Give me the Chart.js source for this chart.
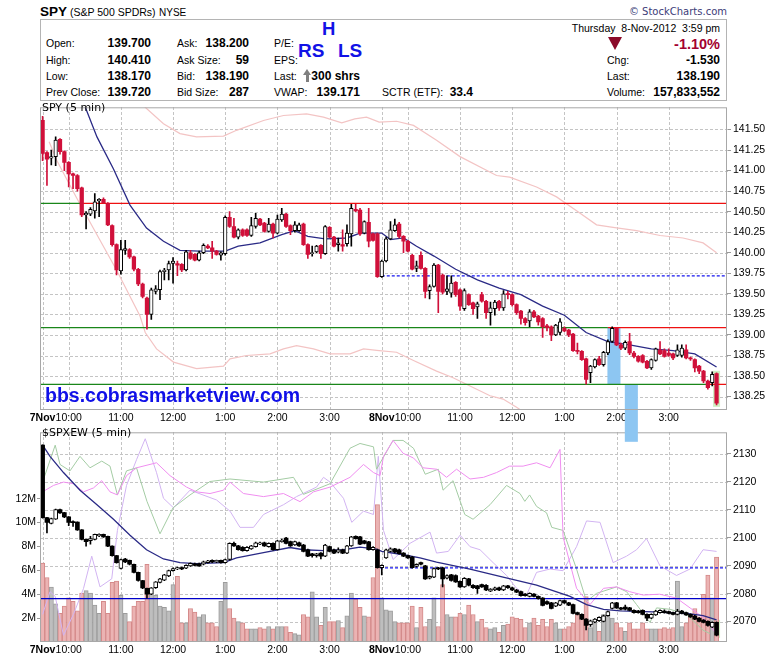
<!DOCTYPE html>
<html>
<head>
<meta charset="utf-8">
<script src="https://cdn.jsdelivr.net/npm/chart.js@4.4.0/dist/chart.umd.min.js"></script>
<style>
  html, body { margin: 0; padding: 0; background: #fff; }
  #page { position: relative; width: 780px; height: 659px; overflow: hidden; background: #fff; }
  .t { position: absolute; white-space: pre; line-height: 1; font-family: 'Liberation Sans', Arial, sans-serif; font-size: 10.5px; color: #000; z-index: 5; }
  .b { font-weight: bold; font-size: 12px; }
  .big { font-weight: bold; color: #1212E6; }
  .dv { font-family: 'DejaVu Sans', sans-serif; font-size: 11px; }
  canvas { position: absolute; left: 0; }
  #spy { top: 99px; z-index: 2; }
  #ew { top: 424px; z-index: 1; }
  #box { position: absolute; left: 40px; top: 19px; width: 687px; height: 82px; box-sizing: border-box; border: 1px solid #B4B4B4; }
</style>
</head>
<body>
<div id="page">
  <div class="t b" style="left:40px;top:5px;font-size:13.5px">SPY</div>
  <div class="t" style="left:70px;top:7px">(S&amp;P 500 SPDRs)</div>
  <div class="t" style="left:159px;top:7.5px;font-size:10px">NYSE</div>
  <div class="t dv" style="right:53px;top:7px;font-size:10px;color:#3C3C78">&copy; StockCharts.com</div>
  <div id="box"></div>

  <div class="t" style="left:46px;top:38px">Open:</div>
  <div class="t b" style="right:629px;top:37px">139.700</div>
  <div class="t" style="left:46px;top:55px">High:</div>
  <div class="t b" style="right:629px;top:54px">140.410</div>
  <div class="t" style="left:46px;top:71px">Low:</div>
  <div class="t b" style="right:629px;top:70px">138.170</div>
  <div class="t" style="left:46px;top:87px">Prev Close:</div>
  <div class="t b" style="right:629px;top:86px">139.720</div>

  <div class="t" style="left:177px;top:38px">Ask:</div>
  <div class="t b" style="right:531px;top:37px">138.200</div>
  <div class="t" style="left:177px;top:55px">Ask Size:</div>
  <div class="t b" style="right:531px;top:54px">59</div>
  <div class="t" style="left:177px;top:71px">Bid:</div>
  <div class="t b" style="right:531px;top:70px">138.190</div>
  <div class="t" style="left:177px;top:87px">Bid Size:</div>
  <div class="t b" style="right:531px;top:86px">287</div>

  <div class="t" style="left:274px;top:38px">P/E:</div>
  <div class="t" style="left:274px;top:55px">EPS:</div>
  <div class="t" style="left:274px;top:71px">Last:</div>
  <div style="position:absolute;left:303px;top:69px;width:0;height:0;border-left:4px solid transparent;border-right:4px solid transparent;border-bottom:6px solid #808080;z-index:5"></div>
  <div style="position:absolute;left:305.5px;top:75px;width:3px;height:7px;background:#808080;z-index:5"></div>
  <div class="t b" style="right:420px;top:70px">300 shrs</div>
  <div class="t" style="left:274px;top:87px">VWAP:</div>
  <div class="t b" style="right:420px;top:86px">139.171</div>
  <div class="t" style="left:382px;top:87px">SCTR (ETF):</div>
  <div class="t b" style="right:307px;top:86px">33.4</div>

  <div class="t big" style="left:322px;top:20px;font-size:18.5px">H</div>
  <div class="t big" style="left:298px;top:40.5px;font-size:19px">RS</div>
  <div class="t big" style="left:338px;top:40.5px;font-size:19px">LS</div>

  <div class="t" style="right:60px;top:23px">Thursday  8-Nov-2012  3:59 pm</div>
  <div style="position:absolute;left:608px;top:37px;width:0;height:0;border-left:7.5px solid transparent;border-right:7.5px solid transparent;border-top:13px solid #8B0A2A;z-index:5"></div>
  <div class="t b" style="right:60px;top:37px;font-size:14.5px;color:#A3002F">-1.10%</div>
  <div class="t" style="left:607px;top:55px">Chg:</div>
  <div class="t b" style="right:60px;top:54px">-1.530</div>
  <div class="t" style="left:607px;top:71px">Last:</div>
  <div class="t b" style="right:60px;top:70px">138.190</div>
  <div class="t" style="left:607px;top:87px">Volume:</div>
  <div class="t b" style="right:60px;top:86px">157,833,552</div>

  <canvas id="spy" width="780" height="346"></canvas>
  <canvas id="ew" width="780" height="235"></canvas>

  <div class="t dv" style="left:42px;top:102px">SPY (5 min)</div>
  <div class="t" style="left:45px;top:385.5px;font-size:19.5px;font-weight:bold;color:#1010E8">bbs.cobrasmarketview.com</div>
  <div class="t dv" style="left:42px;top:426.5px">$SPXEW (5 min)</div>
</div>

<script>
// --- time axis: 5-minute bars, 7 Nov (0-77) and 8 Nov (78-155)
const timeTicks = [0, 6, 18, 30, 42, 54, 66, 78, 84, 96, 108, 120, 132, 144];
const timeLabels = ['7Nov', '10:00', '11:00', '12:00', '1:00', '2:00', '3:00',
                    '8Nov', '10:00', '11:00', '12:00', '1:00', '2:00', '3:00'];

// --- SPY 5 min candles
const spyOpen = [
  141.61,141.22,141.15,141.17,141.38,141.23,141.10,140.96,140.94,140.79,
  140.46,140.47,140.51,140.63,140.65,140.60,140.33,140.10,139.78,140.03,
  140.04,139.95,139.80,139.62,139.45,139.25,139.53,139.55,139.77,139.79,
  139.87,139.87,139.86,139.79,140.00,139.98,139.91,140.00,140.08,140.06,
  140.02,139.97,139.99,140.43,140.32,140.19,140.28,140.28,140.21,140.32,
  140.41,140.36,140.26,140.35,140.24,140.40,140.47,140.33,140.27,140.27,
  140.35,140.10,139.99,140.01,140.09,139.99,140.31,140.19,140.10,140.10,
  140.11,140.23,140.53,140.52,140.24,140.37,140.23,140.23,
  139.71,139.90,
  140.17,140.27,140.35,140.20,140.14,139.97,139.81,139.97,139.81,139.54,
  139.59,139.85,139.73,139.53,139.51,139.64,139.55,139.32,139.49,139.39,
  139.34,139.49,139.41,139.27,139.32,139.41,139.33,139.50,139.49,139.37,
  139.29,139.20,139.17,139.28,139.23,139.20,139.11,139.10,139.00,139.03,
  139.08,139.06,139.01,138.81,138.80,138.71,138.54,138.61,138.71,138.64,
  138.78,138.92,139.08,138.88,138.84,138.92,138.78,138.74,138.75,138.68,
  138.60,138.69,138.82,138.81,138.78,138.77,138.75,138.75,138.82,138.72,
  138.70,138.62,138.56,138.44,138.42,138.53];
const spyHigh = [
  141.66,141.23,141.25,141.41,141.39,141.24,141.11,140.97,140.95,140.80,
  140.50,140.55,140.72,140.66,140.67,140.61,140.34,140.11,140.15,140.15,
  140.05,139.96,139.81,139.63,139.46,139.57,139.60,139.79,139.81,139.90,
  139.94,139.90,139.87,140.03,140.03,139.99,140.02,140.11,140.10,140.14,
  140.03,140.01,140.45,140.50,140.42,140.29,140.29,140.29,140.43,140.48,
  140.42,140.37,140.42,140.36,140.46,140.54,140.48,140.34,140.38,140.36,
  140.36,140.11,140.08,140.09,140.10,140.33,140.32,140.20,140.18,140.28,
  140.34,140.59,140.59,140.54,140.39,140.54,140.24,140.24,
  139.91,140.19,
  140.38,140.41,140.37,140.21,140.15,139.98,139.90,140.01,139.82,139.61,
  139.87,139.86,139.74,139.72,139.72,139.65,139.56,139.56,139.50,139.40,
  139.40,139.52,139.42,139.40,139.42,139.42,139.54,139.53,139.50,139.38,
  139.30,139.21,139.31,139.30,139.24,139.21,139.13,139.11,139.13,139.20,
  139.10,139.07,139.02,138.90,138.81,138.72,138.63,138.71,138.74,138.80,
  138.94,139.10,139.09,138.90,138.93,139.02,138.80,138.75,138.76,138.69,
  138.71,138.84,138.92,138.83,138.83,138.78,138.88,138.88,138.88,138.73,
  138.71,138.63,138.57,138.45,138.55,138.54];
const spyLow = [
  141.12,140.82,141.07,141.06,141.20,141.00,140.80,140.78,140.75,140.44,
  140.29,140.45,140.42,140.44,140.60,140.33,140.08,139.73,139.74,139.98,
  139.93,139.78,139.60,139.45,139.07,139.19,139.50,139.43,139.67,139.67,
  139.63,139.72,139.77,139.78,139.92,139.90,139.90,139.99,140.05,139.93,
  139.97,139.91,139.97,140.31,140.18,140.17,140.20,140.20,140.20,140.30,
  140.33,140.25,140.25,140.18,140.23,140.38,140.31,140.22,140.25,140.26,
  140.09,139.93,139.96,140.00,139.93,139.98,140.18,140.07,140.02,140.02,
  140.08,140.08,140.50,140.21,140.23,140.07,140.14,139.70,
  139.70,139.89,
  140.16,140.26,140.18,140.00,140.01,139.79,139.77,139.80,139.45,139.44,
  139.58,139.27,139.50,139.49,139.46,139.47,139.30,139.30,139.36,139.25,
  139.20,139.40,139.20,139.12,139.24,139.30,139.30,139.44,139.35,139.25,
  139.13,139.12,139.10,139.21,139.12,138.97,139.05,138.93,138.99,139.00,
  139.04,138.98,138.80,138.77,138.69,138.40,138.42,138.60,138.63,138.62,
  138.76,138.91,138.87,138.82,138.82,138.76,138.72,138.67,138.66,138.59,
  138.58,138.68,138.76,138.73,138.74,138.70,138.74,138.73,138.71,138.69,
  138.55,138.53,138.42,138.34,138.38,138.15];
const spyClose = [
  141.21,141.14,141.17,141.37,141.23,141.10,140.96,140.94,140.78,140.46,
  140.48,140.53,140.62,140.65,140.61,140.34,140.10,139.79,140.04,140.05,
  139.95,139.80,139.62,139.47,139.25,139.55,139.56,139.77,139.79,139.87,
  139.90,139.85,139.79,140.01,139.93,139.91,140.00,140.09,140.06,140.02,
  139.98,140.00,140.43,140.32,140.19,140.28,140.21,140.21,140.33,140.42,
  140.34,140.26,140.35,140.24,140.41,140.47,140.32,140.27,140.34,140.34,
  140.10,139.98,140.00,140.08,139.99,140.32,140.19,140.08,140.12,140.08,
  140.24,140.54,140.51,140.23,140.38,140.14,140.15,139.71,
  139.90,140.17,
  140.28,140.34,140.20,140.14,140.02,139.80,139.84,139.81,139.53,139.59,
  139.85,139.53,139.52,139.56,139.63,139.49,139.35,139.54,139.37,139.32,
  139.38,139.41,139.27,139.33,139.40,139.33,139.50,139.49,139.37,139.27,
  139.20,139.15,139.28,139.22,139.16,139.10,139.09,139.00,139.12,139.16,
  139.05,139.00,138.81,138.80,138.70,138.46,138.62,138.70,138.64,138.79,
  138.92,139.08,138.88,138.84,138.91,138.78,138.74,138.68,138.67,138.60,
  138.70,138.83,138.77,138.74,138.75,138.72,138.82,138.84,138.72,138.71,
  138.60,138.56,138.44,138.36,138.52,138.17];

// SPY volume, millions of shares
const spyVolumeM = [
  6.6,5.4,4.6,3.2,2.4,3.0,3.7,3.4,2.6,4.1,
  4.3,4.1,3.1,2.4,3.4,2.4,5.0,5.1,3.9,2.4,
  1.7,3.0,3.4,3.4,6.5,4.5,3.9,3.0,2.9,2.6,
  4.8,5.5,1.6,1.6,2.8,2.5,2.1,2.3,1.6,1.6,
  1.3,3.4,5.0,2.8,2.0,1.7,1.6,1.1,1.1,1.1,
  1.2,1.1,1.3,1.1,1.3,1.3,1.3,0.8,0.7,0.6,
  2.3,2.1,4.2,2.1,1.4,2.9,1.7,1.7,1.8,1.2,
  2.2,4.1,3.6,2.9,2.2,2.1,5.4,11.5,
  3.7,2.7,
  2.6,1.7,1.6,1.6,1.6,3.0,1.2,2.9,1.3,1.9,
  3.7,1.3,4.8,2.3,2.1,2.1,2.4,2.3,3.1,2.3,
  1.7,1.9,1.2,1.1,1.2,0.8,1.4,1.5,2.1,2.0,
  1.9,1.2,1.6,2.0,1.4,1.9,1.3,1.9,1.6,1.1,
  1.1,1.3,1.6,2.3,2.1,3.8,1.2,1.6,0.9,2.3,
  2.5,2.0,1.6,1.2,0.9,1.6,1.1,1.1,1.6,1.1,
  1.1,1.1,1.1,1.2,1.1,1.2,5.1,1.3,1.6,2.1,
  2.8,2.1,4.0,5.6,3.7,7.1];

// SPY overlays read as [bar, price]
const spyMovingAvg = [[9.6,141.80],[12.5,141.41],[16.3,141.02],[20.1,140.58],[23.9,140.30],[27.8,140.14],
  [31.6,140.03],[36,140.02],[42,140.02],[45,140.08],[50,140.12],[55,140.22],[58,140.27],[61,140.20],
  [65,140.17],[70,140.18],[73,140.24],[76,140.24],[78,140.24],[80,140.16],[83,140.18],[86,140.08],
  [90,139.96],[95,139.80],[100,139.67],[105,139.57],[110,139.49],[115,139.35],[120,139.24],[125,139.03],
  [130,138.92],[135,138.88],[140,138.83],[145,138.81],[150,138.77],[155,138.61]];
const spyUpperBand = [[22,141.90],[23.6,141.77],[27.8,141.57],[31.6,141.45],[35.4,141.41],[41.6,141.42],
  [44.6,141.49],[50.8,141.61],[55.4,141.67],[60.7,141.69],[64.6,141.65],[68.8,141.58],[71.8,141.63],
  [74.5,141.65],[77.4,141.59],[81.4,141.60],[85.3,141.55],[90.6,141.37],[96,141.17],[104.4,140.94],
  [107.4,140.92],[113.6,140.80],[118.2,140.68],[122.8,140.51],[127.4,140.34],[131.2,140.31],
  [136.6,140.27],[142,140.21],[147.3,140.18],[151.9,140.12],[155,140.00]];
const spyLowerBand = [[1.5,141.35],[3.3,141.12],[7.9,140.66],[12.5,140.22],[17,139.79],[22.4,139.23],
  [23.6,139.03],[26.2,138.83],[30.1,138.67],[35.4,138.59],[41.6,138.62],[43.1,138.71],[46.9,138.75],
  [52.3,138.77],[55.4,138.83],[58.4,138.87],[62.3,138.83],[66.1,138.77],[70.7,138.77],[73.8,138.83],
  [77.4,138.81],[81.4,138.79],[85.3,138.69],[90.6,138.56],[94.4,138.48],[98.3,138.38],[102.9,138.26],
  [105.9,138.22],[109,138.12],[111,138.05]];

// drawn levels: price, bar where the line turns from green to red
const spyLevels = [140.60, 139.09, 138.40];
const spyLevelTurn = [8.6, 130, 153];
const spyDashLevel = 139.72, spyDashFrom = 78;
// shaded zones: [fromBar, toBar, topPrice, bottomPrice]
const spyZones = [[129.9, 132.9, 139.09, 138.40], [133.9, 136.9, 138.40, 137.70]];
const spyTicks = [138.25,138.50,138.75,139.00,139.25,139.50,139.75,140.00,140.25,140.50,140.75,141.00,141.25,141.50];

// --- $SPXEW 5 min candles
const ewOpen = [
  2133.1,2107.2,2105.1,2106.6,2110.1,2109.0,2107.5,2105.8,2105.6,2102.8,
  2099.4,2098.9,2099.4,2100.6,2101.2,2100.5,2097.0,2093.6,2089.0,2092.4,
  2091.9,2090.5,2087.6,2084.7,2081.9,2079.8,2082.1,2084.0,2084.8,2086.3,
  2088.2,2088.8,2089.3,2089.1,2089.9,2090.7,2090.7,2090.5,2091.1,2091.9,
  2091.3,2091.9,2091.1,2092.2,2098.0,2097.1,2096.6,2095.4,2096.0,2096.8,
  2097.7,2098.2,2096.8,2098.0,2095.7,2098.6,2099.9,2098.6,2097.4,2098.2,
  2097.4,2095.7,2094.2,2093.6,2094.5,2093.4,2096.8,2095.7,2094.8,2095.7,
  2094.5,2097.1,2100.5,2100.3,2098.9,2098.5,2095.7,2095.7,
  2089.3,2092.8,
  2095.1,2096.0,2095.7,2094.5,2093.6,2093.1,2089.7,2091.1,2089.9,2085.5,
  2085.9,2089.2,2089.2,2085.5,2086.7,2086.5,2084.4,2082.4,2085.3,2083.0,
  2082.8,2083.2,2083.0,2080.9,2081.3,2082.1,2081.3,2082.8,2082.1,2081.3,
  2080.7,2079.8,2079.0,2079.8,2079.0,2078.4,2077.2,2076.7,2075.5,2075.9,
  2077.5,2076.7,2076.1,2073.2,2072.6,2070.9,2068.9,2069.8,2070.3,2070.1,
  2072.1,2074.7,2076.7,2074.9,2075.2,2074.9,2074.0,2073.8,2074.0,2072.6,
  2071.2,2072.4,2073.2,2073.8,2073.6,2073.2,2072.6,2073.8,2073.2,2072.6,
  2072.0,2071.2,2070.5,2070.1,2068.0,2069.7];
const ewHigh = [
  2133.2,2107.3,2107.0,2110.2,2110.2,2109.1,2107.6,2106.0,2105.7,2102.9,
  2099.5,2100.5,2101.3,2101.4,2101.3,2100.6,2097.1,2093.7,2092.4,2092.6,
  2092.0,2090.6,2087.7,2084.8,2082.0,2082.2,2084.3,2085.5,2086.9,2088.4,
  2089.2,2089.5,2089.5,2090.3,2091.0,2090.9,2090.9,2091.6,2091.9,2092.1,
  2092.0,2092.0,2092.4,2098.2,2098.4,2097.3,2096.8,2096.8,2097.3,2098.4,
  2098.4,2098.4,2098.2,2098.2,2099.1,2099.5,2100.1,2098.8,2098.8,2098.4,
  2097.6,2095.9,2094.4,2094.4,2094.7,2097.6,2097.0,2095.9,2096.4,2095.9,
  2097.3,2100.5,2100.7,2100.5,2099.1,2098.7,2096.8,2095.9,
  2090.3,2095.9,
  2096.4,2096.2,2095.9,2094.7,2093.8,2093.3,2090.7,2091.3,2090.1,2086.4,
  2089.2,2089.4,2089.4,2086.7,2086.9,2086.7,2084.6,2085.7,2085.5,2083.2,
  2083.0,2083.4,2083.2,2081.8,2082.3,2082.3,2083.0,2083.0,2082.3,2081.5,
  2080.9,2080.0,2080.3,2080.0,2079.2,2078.6,2077.4,2076.9,2076.9,2077.7,
  2077.7,2076.9,2076.3,2073.4,2072.8,2071.1,2070.5,2071.1,2071.7,2072.3,
  2073.8,2076.9,2076.9,2075.1,2075.9,2075.1,2074.2,2074.0,2074.2,2072.8,
  2072.8,2074.0,2074.2,2074.2,2073.8,2073.4,2074.4,2074.0,2073.4,2072.8,
  2072.2,2071.4,2070.7,2070.3,2069.9,2069.9];
const ewLow = [
  2107.0,2101.7,2104.9,2106.5,2108.7,2107.2,2104.3,2104.0,2102.6,2099.2,
  2097.0,2097.7,2099.2,2100.4,2100.1,2096.8,2093.4,2090.9,2088.8,2091.1,
  2090.3,2087.4,2084.5,2081.8,2078.4,2079.6,2081.9,2083.8,2084.6,2086.1,
  2088.0,2088.6,2088.6,2088.9,2089.7,2089.9,2089.7,2090.3,2090.9,2091.1,
  2091.1,2090.9,2090.9,2092.0,2096.9,2095.5,2095.2,2095.2,2095.8,2096.6,
  2097.5,2096.9,2096.6,2095.5,2095.5,2098.4,2097.8,2096.9,2097.2,2096.9,
  2094.9,2093.2,2093.0,2093.0,2092.4,2093.2,2094.9,2094.3,2094.6,2094.3,
  2094.3,2096.9,2099.5,2097.5,2097.8,2095.5,2095.5,2089.1,
  2086.7,2092.6,
  2094.9,2094.6,2094.1,2093.2,2092.6,2089.1,2089.5,2090.3,2085.1,2085.3,
  2085.7,2088.6,2082.4,2085.3,2084.5,2084.0,2082.2,2082.2,2082.8,2081.9,
  2080.1,2082.2,2081.1,2080.7,2081.1,2081.1,2081.1,2081.9,2081.1,2080.3,
  2079.1,2079.1,2078.8,2078.8,2078.0,2075.6,2076.1,2074.5,2075.3,2075.7,
  2076.5,2075.7,2072.7,2072.4,2070.7,2067.0,2068.3,2069.6,2070.1,2069.9,
  2071.9,2074.5,2074.7,2074.2,2074.2,2073.8,2073.0,2073.0,2072.4,2070.3,
  2071.0,2072.2,2073.0,2073.0,2072.7,2072.4,2072.4,2072.7,2072.2,2071.5,
  2070.7,2069.9,2069.5,2068.4,2067.8,2064.9];
const ewClose = [
  2107.2,2105.5,2106.8,2110.1,2108.9,2107.4,2105.5,2105.4,2102.8,2099.4,
  2098.6,2099.7,2101.2,2101.2,2100.3,2097.0,2093.6,2091.1,2092.2,2091.3,
  2090.5,2087.6,2084.7,2082.0,2079.8,2082.1,2084.2,2085.3,2086.7,2088.2,
  2089.0,2089.3,2088.8,2090.1,2090.8,2090.1,2089.9,2091.4,2091.75,2091.3,
  2091.9,2091.1,2092.2,2098.0,2097.1,2095.7,2095.4,2096.6,2097.1,2098.2,
  2098.2,2097.1,2098.0,2095.7,2098.9,2099.1,2098.0,2097.1,2098.6,2097.1,
  2095.1,2093.4,2093.6,2094.2,2093.4,2097.4,2095.1,2094.5,2095.7,2094.5,
  2097.1,2100.3,2099.7,2097.7,2098.0,2095.7,2096.6,2089.3,
  2090.1,2095.7,
  2096.0,2094.8,2094.3,2093.4,2092.8,2089.3,2090.5,2090.5,2085.3,2086.2,
  2089.0,2088.8,2085.3,2086.5,2084.7,2084.2,2082.4,2085.5,2083.0,2082.1,
  2081.8,2082.4,2081.3,2081.6,2082.1,2081.3,2082.8,2082.1,2081.3,2080.5,
  2079.3,2079.3,2080.1,2079.0,2078.2,2075.8,2076.3,2074.7,2076.7,2077.5,
  2076.7,2075.9,2072.9,2072.6,2070.9,2068.6,2070.3,2070.9,2071.5,2072.1,
  2073.6,2076.7,2074.9,2074.4,2074.4,2074.0,2073.2,2073.2,2072.6,2071.2,
  2072.6,2073.8,2074.0,2073.2,2072.9,2072.6,2073.8,2072.9,2072.4,2071.7,
  2070.9,2070.1,2069.7,2068.6,2069.7,2065.1];

// $SPXEW overlays read as [bar, value]
const ewMovingAvg = [[0,2133.1],[1.7,2129.1],[4.8,2123.3],[8.6,2117.0],[12.5,2111.8],[16.3,2106.6],
  [20.1,2100.9],[23.9,2095.7],[27.8,2092.4],[31.6,2091.1],[35.4,2090.7],[41.6,2091.1],[44.6,2092.8],
  [50.8,2094.7],[56.9,2096.5],[60,2095.7],[64.6,2095.4],[69.2,2095.7],[73,2096.6],[76.8,2095.9],
  [78,2095.1],[83,2093.9],[86.8,2092.8],[90.6,2091.3],[98.3,2088.8],[105.9,2085.9],[113.6,2083.0],
  [121.3,2079.0],[125.1,2076.1],[129,2074.4],[132.8,2073.8],[140.4,2073.5],[148.1,2072.9],
  [151.9,2072.1],[155,2070.6]];
const ewGreenLine = [[0,2119.9],[2.9,2133.1],[4,2126.2],[6.3,2123.9],[8.6,2129.1],[10.9,2125.0],
  [13.6,2127.4],[15.5,2125.6],[17.2,2115.3],[19.3,2123.9],[21.6,2125.0],[24,2113.0],[27,2101.4],
  [30,2110.7],[33.9,2115.3],[38.5,2120.1],[43.1,2121.0],[50.8,2119.9],[57.7,2121.6],[60,2115.5],
  [66.1,2119.3],[70.7,2132.0],[73,2133.7],[76.1,2132.5],[76.8,2124.5],[80.6,2134.8],[82.9,2134.8],
  [85.3,2132.0],[88,2122.7],[91,2124.5],[92.1,2117.0],[94.4,2120.4],[97.1,2108.3],[99,2106.6],
  [102.9,2111.8],[106.7,2118.7],[109.8,2115.8],[110.9,2113.0],[112,2115.3],[113.6,2111.2],
  [115.9,2108.9],[117.1,2103.7],[119.7,2102.6],[122.8,2088.8],[125.1,2077.2],[127.4,2080.1],
  [132,2082.4],[134.3,2080.7],[136.6,2076.1],[139.7,2069.7],[141.2,2074.9],[144.3,2074.4],
  [148.1,2072.6],[151.9,2066.9],[153.5,2065.7]];
const ewPinkLine = [[0,2116.4],[2.5,2118.7],[4.8,2119.9],[7.1,2119.3],[9.4,2116.4],[11.7,2117.8],
  [13.6,2120.4],[15.5,2116.4],[17.2,2115.3],[19.3,2122.2],[21.6,2125.0],[26.2,2126.8],[29.3,2122.2],
  [33.1,2118.1],[35.4,2116.4],[38.5,2115.8],[41.6,2117.0],[43.1,2119.9],[46.2,2115.8],[50.8,2114.7],
  [55.4,2115.8],[59.2,2112.9],[62.3,2116.4],[66.1,2118.1],[70.7,2121.6],[73.8,2126.2],[76.1,2123.3],
  [77.6,2122.2],[78.4,2129.1],[80.6,2134.8],[82.9,2130.2],[85.3,2128.5],[87.5,2125.0],[90.6,2124.5],
  [92.9,2121.6],[95.2,2124.5],[98.3,2121.0],[101.4,2121.6],[104.4,2123.3],[107.4,2125.6],
  [110.5,2125.6],[113.6,2126.8],[116.7,2125.0],[119,2131.6],[119.7,2100.3],[122.8,2081.9],
  [125.9,2076.1],[129,2081.9],[132,2082.4],[135,2080.7],[138.1,2079.5],[141.9,2079.8],
  [145.8,2078.4],[148.9,2074.9],[151.9,2071.5],[155,2065.7]];
const ewLavenderLine = [[0,2072.6],[1.7,2080.7],[2.9,2079.0],[4.8,2065.1],[7.1,2072.6],[9.4,2081.8],
  [11.3,2093.4],[13.2,2082.4],[15.9,2085.3],[17.2,2102.6],[19.3,2118.7],[21.6,2127.9],[23.6,2135.4],
  [26.2,2123.3],[27.8,2114.1],[30.1,2110.7],[33.9,2117.0],[40,2113.5],[43.1,2109.5],[45.4,2103.7],
  [48.5,2103.7],[50.8,2108.3],[55.4,2111.8],[58.4,2114.7],[63,2118.1],[64.6,2121.6],[66.1,2119.9],
  [69.2,2114.1],[71.1,2105.5],[73.8,2109.5],[76.1,2108.3],[77.2,2129.1],[78.4,2102.6],[80.6,2092.2],
  [84.5,2098.0],[89.1,2102.0],[90.6,2094.5],[93.3,2095.1],[96,2100.9],[98.3,2096.8],[100.6,2095.7],
  [103.6,2091.1],[106.7,2086.5],[109,2081.9],[111.3,2079.5],[113.6,2087.6],[116.7,2088.8],
  [119.7,2088.2],[122.8,2096.8],[125.1,2106.0],[128.2,2105.5],[131.2,2091.1],[134.3,2093.4],
  [136.6,2095.7],[138.9,2099.7],[142,2089.9],[145.8,2086.5],[148.9,2088.8],[151.9,2095.7],[155,2095.1]];
const ewLevel = 2078.2;
const ewDashLevel = 2089.2, ewDashFrom = 77.6;
const ewTicks = [2070, 2080, 2090, 2100, 2110, 2120, 2130];
const volTicks = [2, 4, 6, 8, 10, 12];

// ---------------------------------------------------------------
const FONT = "'Liberation Sans', Arial, sans-serif";
const RED = '#D0103A';
const X_MIN = -0.6, X_MAX = 157.4;
const bars = spyClose.map((c, i) => i);

const pts = list => list.map(([x, y]) => ({ x, y }));
const seg = (x0, x1, y) => [{ x: x0, y }, { x: x1, y }];

function timeAxis(height) {
  return {
    type: 'linear', min: X_MIN, max: X_MAX, offset: false,
    afterBuildTicks: s => { s.ticks = timeTicks.map(v => ({ value: v })); },
    afterFit: s => { s.height = height; },
    grid: { drawOnChartArea: false, drawTicks: false, offset: false },
    border: { display: false },
    ticks: {
      autoSkip: false, maxRotation: 0, padding: 2, color: '#000',
      callback: (v, i) => timeLabels[i],
      font: ctx => ({ family: FONT, size: 10.5, weight: /Nov/.test(timeLabels[ctx.index] || '') ? 'bold' : 'normal' })
    }
  };
}

function valueAxis(min, max, ticks, fmt) {
  return {
    position: 'right', min, max, beginAtZero: false,
    afterBuildTicks: s => { s.ticks = ticks.map(v => ({ value: v })); },
    afterFit: s => { s.width = 53; },
    grid: { drawOnChartArea: false, tickLength: 4, tickColor: '#999999' },
    border: { display: false },
    ticks: { padding: 2, autoSkip: false, color: '#000', font: { family: FONT, size: 10.5 }, callback: fmt }
  };
}

function lineSet(data, color, width, extra) {
  return Object.assign({ type: 'line', data, borderColor: color, borderWidth: width,
    pointRadius: 0, fill: false, tension: 0, clip: 0, yAxisID: 'y' }, extra || {});
}

function candleSets(open, high, low, close, downFill, downWick, axis, bodyWidth) {
  const down = bars.map(i => close[i] < open[i]);
  return [
    { type: 'bar', yAxisID: axis, grouped: false, barThickness: bodyWidth, minBarLength: 1, borderSkipped: false,
      data: bars.map(i => ({ x: i, y: [open[i], close[i]] })),
      backgroundColor: down.map(d => d ? downFill : '#FFFFFF'),
      borderColor: down.map(d => d ? downFill : '#000000'),
      borderWidth: down.map(d => d ? 0 : 1) },
    { type: 'bar', yAxisID: axis, grouped: false, barThickness: 1, borderSkipped: false,
      data: bars.map(i => ({ x: i, y: [low[i], high[i]] })),
      backgroundColor: down.map(d => d ? downWick : '#000000'), borderWidth: 0 }
  ];
}

// crisp dashed grid at the tick values, placed through the chart's own scales
function dashedGrid(yTicks) {
  return {
    id: 'dashedGrid',
    beforeDatasetsDraw(chart) {
      const { ctx, chartArea: a } = chart;
      const xs = chart.scales.x, ys = chart.scales.y;
      ctx.save();
      ctx.fillStyle = '#C4C4C4';
      timeTicks.forEach(v => {
        const px = Math.round(xs.getPixelForValue(v));
        for (let yy = Math.round(a.top); yy < a.bottom; yy += 5) ctx.fillRect(px, yy, 1, 3);
      });
      yTicks.forEach(v => {
        const py = Math.round(ys.getPixelForValue(v));
        for (let xx = Math.round(a.left); xx < a.right; xx += 5) ctx.fillRect(xx, py, 3, 1);
      });
      ctx.restore();
    }
  };
}

const framePlugin = {
  id: 'plotFrame',
  afterDatasetsDraw(chart) {
    const { ctx, chartArea: a } = chart;
    ctx.save();
    ctx.strokeStyle = '#A8A8A8';
    ctx.lineWidth = 1;
    ctx.strokeRect(a.left + 0.5, a.top + 0.5, a.right - a.left - 1, a.bottom - a.top - 1);
    ctx.restore();
  }
};

function lastBarHalo(chart, high, low) {
  const { ctx, scales: { x, y } } = chart;
  const k = bars.length - 1;
  const px = x.getPixelForValue(k);
  const top = y.getPixelForValue(high[k]) - 2, bottom = y.getPixelForValue(low[k]) + 2;
  ctx.fillStyle = '#CCEFC2';
  ctx.fillRect(px - 3.5, top, 7, bottom - top);
}

const spyZonePlugin = {
  id: 'spyZones',
  beforeDatasetsDraw(chart) {
    const { ctx, scales: { x, y } } = chart;
    ctx.save();
    ctx.fillStyle = '#8DC6F2';
    spyZones.forEach(([b0, b1, p0, p1]) => {
      const x0 = x.getPixelForValue(b0), x1 = x.getPixelForValue(b1);
      const y0 = y.getPixelForValue(p0), y1 = y.getPixelForValue(p1);
      ctx.fillRect(x0, y0, x1 - x0, y1 - y0);
    });
    lastBarHalo(chart, spyHigh, spyLow);
    ctx.restore();
  }
};

const ewHaloPlugin = {
  id: 'ewHalo',
  beforeDatasetsDraw(chart) {
    chart.ctx.save();
    lastBarHalo(chart, ewHigh, ewLow);
    chart.ctx.restore();
  }
};

const common = {
  responsive: false, animation: false, events: [],
  plugins: { legend: { display: false }, tooltip: { enabled: false } }
};

// ----- SPY panel
const spyLevelSets = [];
spyLevels.forEach((p, k) => {
  spyLevelSets.push(lineSet(seg(X_MIN, spyLevelTurn[k], p), '#1A861A', 1.2));
  spyLevelSets.push(lineSet(seg(spyLevelTurn[k], X_MAX, p), '#EE1111', 1.2));
});

new Chart(document.getElementById('spy'), {
  type: 'bar',
  data: {
    datasets: [
      ...candleSets(spyOpen, spyHigh, spyLow, spyClose, RED, RED, 'y', 3.6),
      lineSet(pts(spyMovingAvg), '#2A2A86', 1.3),
      ...spyLevelSets,
      lineSet(seg(spyDashFrom, X_MAX, spyDashLevel), '#1414F0', 1.2, { borderDash: [3, 2] }),
      lineSet(pts(spyUpperBand), '#F3C4C4', 1.2),
      lineSet(pts(spyLowerBand), '#F3C4C4', 1.2)
    ]
  },
  options: Object.assign({}, common, {
    layout: { padding: { left: 40, top: 1, right: 0, bottom: 19 }, autoPadding: false },
    scales: {
      x: timeAxis(16),
      y: valueAxis(138.087, 141.77, spyTicks, v => v.toFixed(2))
    }
  }),
  plugins: [dashedGrid(spyTicks), spyZonePlugin, framePlugin]
});

// ----- $SPXEW panel with SPY volume
const volDown = bars.map(i => spyClose[i] < spyOpen[i]);

new Chart(document.getElementById('ew'), {
  type: 'bar',
  data: {
    datasets: [
      ...candleSets(ewOpen, ewHigh, ewLow, ewClose, '#000000', '#000000', 'y', 4),
      lineSet(pts(ewMovingAvg), '#2A2A86', 1.3),
      lineSet(seg(X_MIN, X_MAX, ewLevel), '#0000C8', 1.3),
      lineSet(seg(ewDashFrom, X_MAX, ewDashLevel), '#1414F0', 1.2, { borderDash: [3, 2] }),
      lineSet(pts(ewPinkLine), '#F08EF0', 1),
      lineSet(pts(ewGreenLine), '#A4CCA4', 1),
      lineSet(pts(ewLavenderLine), '#D2B4F2', 1),
      { type: 'bar', yAxisID: 'vol', grouped: false, barThickness: 4.3, borderSkipped: 'start',
        data: bars.map(i => ({ x: i, y: spyVolumeM[i] })),
        backgroundColor: volDown.map(d => d ? '#EBB3B3' : '#BEBEBE'),
        borderColor: volDown.map(d => d ? '#D48A8A' : '#9C9C9C'),
        borderWidth: 1 }
    ]
  },
  options: Object.assign({}, common, {
    layout: { padding: { left: 0, top: 1, right: 0, bottom: 0 }, autoPadding: false },
    scales: {
      x: timeAxis(17),
      y: valueAxis(2062.7, 2137.7, ewTicks, v => String(v)),
      vol: {
        position: 'left', min: 0, max: 17.55, beginAtZero: true,
        afterBuildTicks: s => { s.ticks = volTicks.map(v => ({ value: v })); },
        afterFit: s => { s.width = 40; },
        grid: { drawOnChartArea: false, tickLength: 3, tickColor: '#999999' },
        border: { display: false },
        ticks: { padding: 1, color: '#000', font: { family: FONT, size: 10.5 }, callback: v => v + 'M' }
      }
    }
  }),
  plugins: [dashedGrid(ewTicks), ewHaloPlugin, framePlugin]
});
</script>
</body>
</html>
